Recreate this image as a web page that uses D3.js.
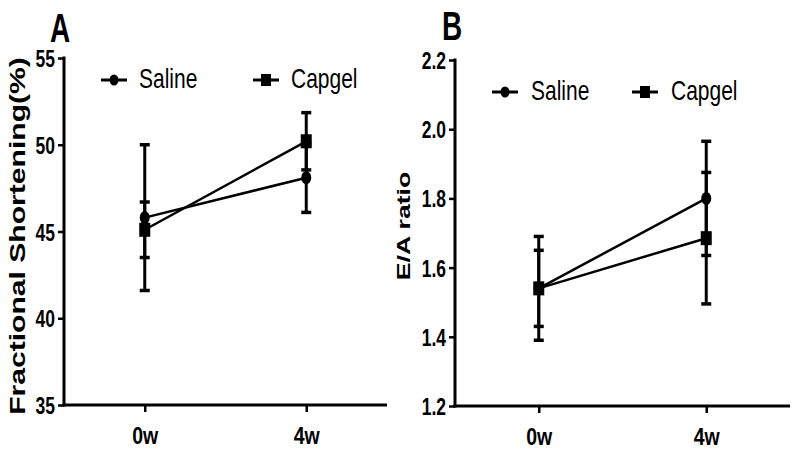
<!DOCTYPE html>
<html>
<head>
<meta charset="utf-8">
<script src="https://cdn.jsdelivr.net/npm/d3@7"></script>
<style>
  html, body { margin: 0; padding: 0; background: #fff; }
  svg { display: block; }
  text { font-family: "Liberation Sans", Arial, sans-serif; fill: #000; }
</style>
</head>
<body>
<svg id="chart" width="800" height="454"></svg>
<script>
// ---- Data ----
const categories = ["0w", "4w"];
const seriesNames = ["Saline", "Capgel"];

// Panel A: Fractional Shortening (%)
const salineFS = [45.8, 48.1];
const salineFSErr = [4.2, 2.0];
const capgelFS = [45.1, 50.2];
const capgelFSErr = [1.6, 1.65];
const ticksFS = [35, 40, 45, 50, 55];

// Panel B: E/A ratio
const salineEA = [1.54, 1.80];
const salineEAErr = [0.15, 0.165];
const capgelEA = [1.54, 1.685];
const capgelEAErr = [0.11, 0.19];
const ticksEA = [1.2, 1.4, 1.6, 1.8, 2.0, 2.2];

const K = 1.35; // vertical stretch of the original figure

const svg = d3.select("#chart");

function stretchedText(g, x, y, str, opts) {
  const t = g.append("text")
    .attr("transform", `translate(${x},${y}) scale(1,${opts.k || K})` + (opts.rotate ? ` rotate(${opts.rotate})` : ""))
    .attr("text-anchor", opts.anchor || "start")
    .attr("font-size", opts.size)
    .attr("font-weight", opts.weight || "normal")
    .text(str);
  return t;
}

function drawPanel(cfg) {
  const g = svg.append("g");
  const x = d3.scalePoint().domain(categories).range([cfg.left, cfg.right]).padding(0.5);
  const y = d3.scaleLinear().domain(cfg.domain).range([cfg.bottom, cfg.top]);

  // y axis
  const ya = g.append("g").attr("transform", `translate(${cfg.left},0)`)
    .call(d3.axisLeft(y).tickValues(cfg.ticks).tickFormat(cfg.fmt).tickSize(6).tickSizeOuter(0).tickPadding(3));
  ya.select(".domain").attr("stroke", "#000").attr("stroke-width", 3).attr("d", `M0,${cfg.top - 1.5}V${cfg.bottom + 1.5}`);
  ya.selectAll(".tick line").attr("stroke", "#000").attr("stroke-width", 2.5);
  ya.selectAll(".tick text")
    .attr("font-family", "Liberation Sans, Arial, sans-serif")
    .attr("font-size", 17.5).attr("font-weight", "bold").attr("fill", "#000")
    .attr("transform", `scale(1,${K})`).attr("x", -9).attr("dy", "0.36em");

  // x axis
  const xa = g.append("g").attr("transform", `translate(0,${cfg.bottom})`)
    .call(d3.axisBottom(x).tickSize(7).tickSizeOuter(0));
  xa.select(".domain").attr("stroke", "#000").attr("stroke-width", 3).attr("d", `M${cfg.left - 1.5},0H${cfg.right}`);
  xa.selectAll(".tick line").attr("stroke", "#000").attr("stroke-width", 2.5);
  xa.selectAll(".tick text")
    .attr("font-family", "Liberation Sans, Arial, sans-serif")
    .attr("font-size", 19.5).attr("font-weight", "bold").attr("fill", "#000")
    .attr("y", 39 / 1.25).attr("dy", 0).attr("transform", `scale(1,1.25)`);

  // series
  const series = [
    { name: "Saline", vals: cfg.saline, err: cfg.salineErr, shape: "circle" },
    { name: "Capgel", vals: cfg.capgel, err: cfg.capgelErr, shape: "square" }
  ];
  const line = d3.line().x((d, i) => x(categories[i])).y(d => y(d));

  series.forEach(s => {
    // error bars
    s.vals.forEach((v, i) => {
      const cx = x(categories[i]);
      const y1 = y(v + s.err[i]), y0 = y(v - s.err[i]);
      g.append("line").attr("x1", cx).attr("x2", cx).attr("y1", y1).attr("y2", y0)
        .attr("stroke", "#000").attr("stroke-width", 3);
      [y1, y0].forEach(yy => {
        g.append("line").attr("x1", cx - 5).attr("x2", cx + 5).attr("y1", yy).attr("y2", yy)
          .attr("stroke", "#000").attr("stroke-width", 3.5);
      });
    });
  });
  series.forEach(s => {
    g.append("path").datum(s.vals).attr("d", line)
      .attr("fill", "none").attr("stroke", "#000").attr("stroke-width", 2.5);
  });
  series.forEach(s => {
    s.vals.forEach((v, i) => {
      const cx = x(categories[i]), cy = y(v);
      if (s.shape === "circle") {
        g.append("ellipse").attr("cx", cx).attr("cy", cy).attr("rx", 5).attr("ry", 6.5).attr("fill", "#000");
      } else {
        g.append("rect").attr("x", cx - 5.5).attr("y", cy - 7).attr("width", 11).attr("height", 14).attr("fill", "#000");
      }
    });
  });

  // legend
  cfg.legend.forEach((L, j) => {
    g.append("line").attr("x1", L.x - 13).attr("x2", L.x + 13).attr("y1", cfg.legendY).attr("y2", cfg.legendY)
      .attr("stroke", "#000").attr("stroke-width", 3);
    if (j === 0) {
      g.append("ellipse").attr("cx", L.x).attr("cy", cfg.legendY).attr("rx", 4.5).attr("ry", 5.5).attr("fill", "#000");
    } else {
      g.append("rect").attr("x", L.x - 5).attr("y", cfg.legendY - 6).attr("width", 10).attr("height", 12).attr("fill", "#000");
    }
    stretchedText(g, L.tx, cfg.legendY + 8, seriesNames[j], { size: 21, k: 1.33 });
  });

  // panel letter
  stretchedText(g, cfg.letterX, cfg.letterY, cfg.letter, { size: 28, weight: "bold", k: 1.45 });

  // y label
  stretchedText(g, cfg.labelX, cfg.labelY, cfg.label, { size: cfg.labelSize, weight: "bold", anchor: "middle", rotate: -90, k: 1.4 });
}

drawPanel({
  left: 64, right: 387, top: 58, bottom: 405,
  domain: [35, 55], ticks: ticksFS, fmt: d3.format("d"),
  saline: salineFS, salineErr: salineFSErr, capgel: capgelFS, capgelErr: capgelFSErr,
  legendY: 80, legend: [{ x: 114, tx: 139 }, { x: 266, tx: 291 }],
  letter: "A", letterX: 50, letterY: 42,
  label: "Fractional Shortening(%)", labelX: 25, labelY: 236, labelSize: 21.5
});

drawPanel({
  left: 455, right: 790, top: 60, bottom: 406,
  domain: [1.2, 2.2], ticks: ticksEA, fmt: d3.format(".1f"),
  saline: salineEA, salineErr: salineEAErr, capgel: capgelEA, capgelErr: capgelEAErr,
  legendY: 92, legend: [{ x: 505, tx: 531 }, { x: 645, tx: 671 }],
  letter: "B", letterX: 442, letterY: 40,
  label: "E/A ratio", labelX: 410, labelY: 226, labelSize: 19
});
</script>
</body>
</html>
